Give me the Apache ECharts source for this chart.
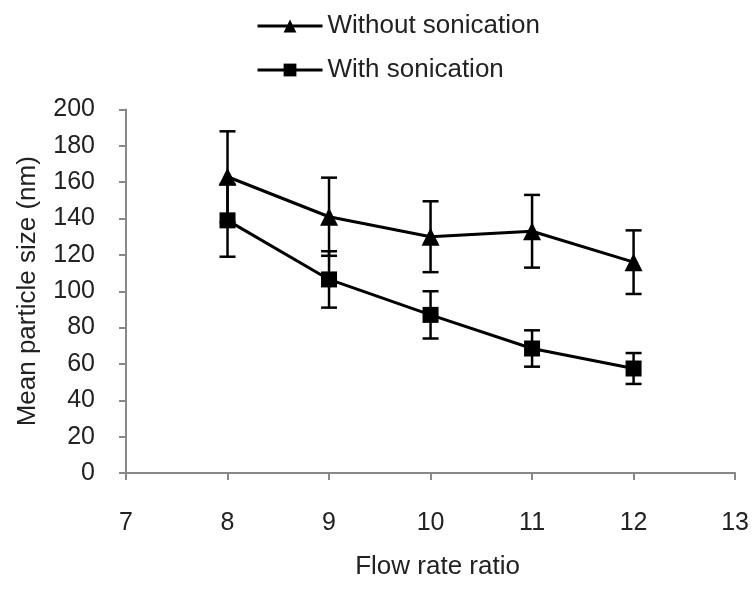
<!DOCTYPE html>
<html>
<head>
<meta charset="utf-8">
<script src="https://cdn.jsdelivr.net/npm/echarts@6/dist/echarts.min.js"></script>
<style>html,body{margin:0;padding:0;background:#fff}#c{width:752px;height:591px}</style>
</head>
<body>
<div id="c"></div>
<script>
const flowRatio = [8, 9, 10, 11, 12];
const withoutSonication = [163, 141, 130, 133, 116];
const withoutErr = [25, 21.5, 19.5, 20, 17.5];
const withSonication = [139, 106.5, 87, 68.5, 57.5];
const withErr = [20, 15.5, 13, 10, 8.5];
const yTicks = [0, 20, 40, 60, 80, 100, 120, 140, 160, 180, 200];
const xTicks = [7, 8, 9, 10, 11, 12, 13];

const font = 'Liberation Sans, Arial, sans-serif';
const chart = echarts.init(document.getElementById('c'), null, {renderer: 'canvas'});

function errData(vals, errs) {
  return flowRatio.map((x, i) => [x, vals[i] - errs[i], vals[i] + errs[i]]);
}
function errRender(params, api) {
  const x = api.value(0);
  const lo = api.coord([x, api.value(1)]);
  const hi = api.coord([x, api.value(2)]);
  const hw = 8;
  const st = {stroke: '#000', lineWidth: 2.5};
  return {
    type: 'group',
    children: [
      {type: 'line', shape: {x1: lo[0], y1: lo[1], x2: hi[0], y2: hi[1]}, style: st},
      {type: 'line', shape: {x1: lo[0] - hw, y1: lo[1], x2: lo[0] + hw, y2: lo[1]}, style: st},
      {type: 'line', shape: {x1: hi[0] - hw, y1: hi[1], x2: hi[0] + hw, y2: hi[1]}, style: st}
    ]
  };
}

chart.setOption({
  animation: false,
  backgroundColor: '#fff',
  grid: {left: 126, right: 12, top: 109.5, bottom: 118},
  legend: {
    orient: 'vertical',
    left: 251,
    top: 8,
    itemWidth: 65,
    itemHeight: 16,
    itemGap: 18,
    data: ['Without sonication', 'With sonication'],
    lineStyle: {width: 3, color: '#000'},
    itemStyle: {color: '#000'},
    textStyle: {fontFamily: font, fontSize: 26, color: '#222'}
  },
  xAxis: {
    type: 'value',
    min: 7, max: 13, interval: 1,
    name: 'Flow rate ratio',
    nameLocation: 'middle',
    nameGap: 81,
    nameTextStyle: {fontFamily: font, fontSize: 26, color: '#222', padding: [0, 0, 0, 14]},
    axisLine: {show: true, onZero: false, lineStyle: {color: '#888', width: 2}},
    axisTick: {show: true, inside: false, length: 7, lineStyle: {color: '#888', width: 2}},
    axisLabel: {fontFamily: font, fontSize: 25, color: '#222', margin: 38,
      formatter: v => xTicks.includes(v) ? String(v) : ''},
    splitLine: {show: false}
  },
  yAxis: {
    type: 'value',
    min: 0, max: 200, interval: 20,
    name: 'Mean particle size (nm)',
    nameLocation: 'middle',
    nameGap: 85,
    nameTextStyle: {fontFamily: font, fontSize: 26, color: '#222'},
    axisLine: {show: true, lineStyle: {color: '#888', width: 2}},
    axisTick: {show: true, inside: false, length: 7, lineStyle: {color: '#888', width: 2}},
    axisLabel: {fontFamily: font, fontSize: 25, color: '#222', margin: 31, padding: [8, 0, 0, 0],
      formatter: v => yTicks.includes(v) ? String(v) : ''},
    splitLine: {show: false}
  },
  series: [
    {
      name: 'Without sonication',
      type: 'line',
      data: flowRatio.map((x, i) => [x, withoutSonication[i]]),
      symbol: 'triangle',
      symbolSize: 18,
      itemStyle: {color: '#000'},
      lineStyle: {color: '#000', width: 3},
      z: 3
    },
    {
      name: 'With sonication',
      type: 'line',
      data: flowRatio.map((x, i) => [x, withSonication[i]]),
      symbol: 'rect',
      symbolSize: 16,
      itemStyle: {color: '#000'},
      lineStyle: {color: '#000', width: 3},
      z: 3
    },
    {
      type: 'custom',
      name: 'errWithout',
      data: errData(withoutSonication, withoutErr),
      renderItem: errRender,
      encode: {x: 0, y: [1, 2]},
      z: 2
    },
    {
      type: 'custom',
      name: 'errWith',
      data: errData(withSonication, withErr),
      renderItem: errRender,
      encode: {x: 0, y: [1, 2]},
      z: 2
    }
  ]
});
</script>
</body>
</html>
